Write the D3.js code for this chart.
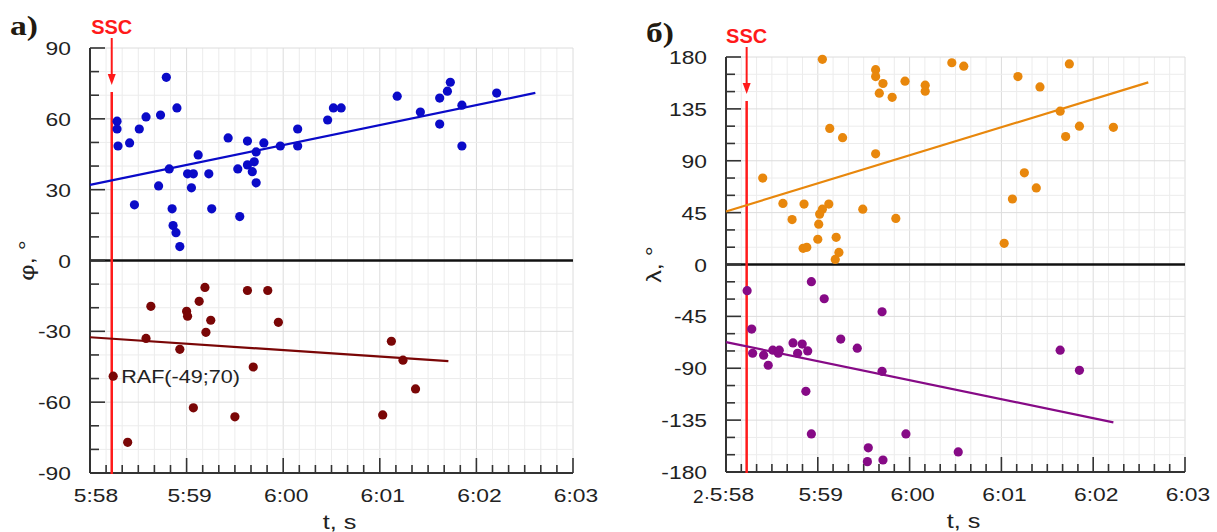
<!DOCTYPE html>
<html>
<head>
<meta charset="utf-8">
<script src="https://cdn.jsdelivr.net/npm/d3@7/dist/d3.min.js"></script>
<style>
  body { margin: 0; background: white; }
  svg { display: block; font-family: Arial, "Liberation Sans", sans-serif; }
</style>
</head>
<body>
<svg id="chart" width="1217" height="532"></svg>
<script>
////////////////////////////////////////////////////////////////////////////////////
// Data (t in minutes after 5:58, angles in degrees)
var tickLabelsX = ["5:58", "5:59", "6:00", "6:01", "6:02", "6:03"];
var sscTime = 0.225;

// panel a) latitude phi
var phiPos = [[0.28,59],[0.28,55.7],[0.29,48.5],[0.41,49.8],[0.51,55.7],[0.58,60.8],[0.46,23.6],
  [0.73,61.6],[0.79,77.6],[0.90,64.6],[0.82,38.8],[0.71,31.6],[0.85,21.9],[0.86,14.8],[0.89,11.8],
  [0.93,5.9],[1.01,36.7],[1.07,36.7],[1.05,30.8],[1.12,44.7],[1.23,36.7],[1.26,21.9],[1.43,51.9],
  [1.53,38.8],[1.55,18.6],[1.63,50.6],[1.63,40.5],[1.68,37.6],[1.70,41.8],[1.72,46],[1.72,32.9],
  [1.80,49.8],[1.97,48.5],[2.15,55.7],[2.15,48.5],[2.46,59.5],[2.52,64.6],[2.60,64.6],[3.18,69.6],
  [3.42,62.9],[3.62,68.8],[3.70,71.7],[3.73,75.5],[3.62,57.8],[3.85,65.8],[3.85,48.5],[4.21,70.9]];
var phiNeg = [[0.24,-49],[0.39,-77],[0.58,-33],[0.63,-19.4],[0.93,-37.6],[1.00,-21.5],[1.01,-23.6],
  [1.07,-62.4],[1.13,-17.3],[1.19,-11.4],[1.20,-30.4],[1.25,-25.3],[1.50,-66.2],[1.63,-12.7],
  [1.69,-45.1],[1.84,-12.7],[1.95,-26.2],[3.12,-34.2],[3.24,-42.2],[3.37,-54.4],[3.03,-65.4]];
var phiPosFit = [[0, 32], [4.61, 71]];
var phiNegFit = [[0, -32.5], [3.71, -42.6]];

// panel б) longitude lambda
var lamPos = [[1.05,178],[1.63,169],[1.63,163],[1.71,157],[1.95,159],[1.67,148.6],[1.81,145],
  [1.13,118],[1.27,110],[1.63,96],[0.40,75],[0.62,53],[0.72,39],[0.85,52.4],[1.12,52.4],[1.05,48],
  [1.02,43.7],[1.01,35],[1.00,21.9],[0.84,14],[0.88,14.9],[1.20,23.6],[1.23,10.5],[1.19,4.4],
  [1.49,48],[1.85,40],[2.17,155.6],[2.17,150.3],[2.46,175],[2.59,172],[3.18,163],[3.42,154],
  [3.74,174],[3.64,133],[3.70,111],[3.85,120],[4.22,119],[3.25,79.5],[3.38,66.4],[3.12,56.8],[3.03,18.4]];
var lamNeg = [[0.23,-22.7],[0.93,-14.9],[1.07,-29.7],[0.28,-56],[0.29,-77],[0.41,-78.7],[0.46,-87.4],
  [0.51,-74.3],[0.58,-74.3],[0.57,-77],[0.73,-68],[0.83,-69],[0.78,-77],[0.89,-75],[0.87,-110],
  [0.93,-147],[1.25,-64.7],[1.43,-72.6],[1.70,-41],[1.70,-92.7],[1.55,-159],[1.54,-171],[1.71,-169.6],
  [1.96,-147],[2.53,-162.6],[3.64,-74.3],[3.85,-91.8]];
var lamPosFit = [[0, 46], [4.60, 158]];
var lamNegFit = [[0, -67.3], [4.22, -137]];

var svg = d3.select("#chart");
var stretchK = 1.2;

// stretch text a bit wider, like the original picture
function stretch(sel) {
  sel.each(function() {
    var w = this.getComputedTextLength();
    d3.select(this).attr("textLength", w * stretchK).attr("lengthAdjust", "spacingAndGlyphs");
  });
}

////////////////////////////////////////////////////////////////////////////////////
// Draw one panel
function drawPanel(p) {
  var x = d3.scaleLinear().domain([0, 5]).range([p.left, p.right]);
  var y = d3.scaleLinear().domain([-p.yMax, p.yMax]).range([p.bottom, p.top]);
  var g = svg.append("g");

  var xMinor = d3.range(0, 5.0001, 1 / 6);
  var yMinor = d3.range(-p.yMax, p.yMax + 0.001, p.yStep);
  var isMajorX = function(d) { return Math.abs(d - Math.round(d)) < 0.001; };
  var isMajorY = function(d) { return Math.abs(d % p.yLabelStep) < 0.001; };

  // grid
  g.selectAll(".vgrid").data(xMinor).enter().append("line")
   .attr("x1", function(d) { return x(d); }).attr("x2", function(d) { return x(d); })
   .attr("y1", p.top).attr("y2", p.bottom)
   .style("stroke", function(d) { return isMajorX(d) ? "#dcdcdc" : "#ececec"; })
   .style("stroke-width", 1);
  g.selectAll(".hgrid").data(yMinor).enter().append("line")
   .attr("x1", p.left).attr("x2", p.right)
   .attr("y1", function(d) { return y(d); }).attr("y2", function(d) { return y(d); })
   .style("stroke", function(d) { return isMajorY(d) ? "#dcdcdc" : "#ececec"; })
   .style("stroke-width", 1);

  // zero line
  g.append("line")
   .attr("x1", p.left).attr("x2", p.right).attr("y1", y(0)).attr("y2", y(0))
   .style("stroke", "#111").style("stroke-width", 2.5);

  // axes with inward ticks
  g.append("line").attr("x1", p.left).attr("x2", p.left).attr("y1", p.top).attr("y2", p.bottom)
   .style("stroke", "#333").style("stroke-width", 2);
  g.append("line").attr("x1", p.left).attr("x2", p.right).attr("y1", p.bottom).attr("y2", p.bottom)
   .style("stroke", "#333").style("stroke-width", 2);
  g.selectAll(".ytick").data(yMinor).enter().append("line")
   .attr("x1", p.left).attr("x2", function(d) { return p.left + (isMajorY(d) ? 15 : 9); })
   .attr("y1", function(d) { return y(d); }).attr("y2", function(d) { return y(d); })
   .style("stroke", "#333").style("stroke-width", 1.6);
  g.selectAll(".xtick").data(xMinor).enter().append("line")
   .attr("x1", function(d) { return x(d); }).attr("x2", function(d) { return x(d); })
   .attr("y1", p.bottom).attr("y2", function(d) { return p.bottom - (isMajorX(d) ? 15 : 8); })
   .style("stroke", "#333").style("stroke-width", 1.6);

  // tick labels
  var yLabels = g.selectAll(".ylab").data(yMinor.filter(isMajorY)).enter().append("text")
   .attr("x", p.left - 19).attr("y", function(d) { return y(d) + 7; })
   .attr("text-anchor", "end").style("font-size", "19px").style("fill", "#222")
   .text(function(d) { return d; });
  stretch(yLabels);
  var xLabels = g.selectAll(".xlab").data(tickLabelsX).enter().append("text")
   .attr("x", function(d, i) { return x(i) + (i === 0 ? 6 : 3); }).attr("y", p.bottom + 29)
   .attr("text-anchor", "middle").style("font-size", "19px").style("fill", "#222")
   .text(function(d) { return d; });
  stretch(xLabels);
  if (p.prefix) {
    g.append("text").attr("x", x(0) - 16).attr("y", p.bottom + 31)
     .attr("text-anchor", "end").style("font-size", "19px").style("fill", "#222").text(p.prefix);
  }

  // axis titles
  var xt = g.append("text").attr("x", (p.left + p.right) / 2 + 8).attr("y", p.bottom + 56)
   .attr("text-anchor", "middle").style("font-size", "21px").style("fill", "#222").text("t, s");
  stretch(xt);
  var yt = g.append("text").attr("transform", "translate(" + p.yTitleX + "," + y(0) + ") rotate(-90)")
   .attr("text-anchor", "middle").style("font-size", "21px").style("fill", "#222").text(p.yTitle);
  stretch(yt);

  // panel letter
  var pl = g.append("text").attr("x", p.left - 80).attr("y", p.top - p.letterDy)
   .style("font-family", "'Liberation Serif', 'Times New Roman', serif")
   .style("font-weight", "bold").style("font-size", "28px").style("fill", "#221a10").text(p.letter);
  stretch(pl);

  // SSC marker
  var xs = x(sscTime);
  g.append("text").attr("x", xs).attr("y", p.top - 14).attr("text-anchor", "middle")
   .style("font-weight", "bold").style("font-size", "20px").style("fill", "#ff1a1a").text("SSC");
  g.append("line").attr("x1", xs).attr("x2", xs).attr("y1", p.top - 10).attr("y2", p.top + 28)
   .style("stroke", "#ff1a1a").style("stroke-width", 2);
  g.append("path")
   .attr("d", "M" + (xs - 4) + "," + (p.top + 26) + "L" + (xs + 4) + "," + (p.top + 26) + "L" + xs + "," + (p.top + 37) + "Z")
   .style("fill", "#ff1a1a");
  g.append("line").attr("x1", xs).attr("x2", xs).attr("y1", p.top + 44).attr("y2", p.bottom + 1)
   .style("stroke", "#ff1a1a").style("stroke-width", 2.5);

  // fit lines and points
  var line = d3.line().x(function(d) { return x(d[0]); }).y(function(d) { return y(d[1]); });
  p.series.forEach(function(s) {
    g.append("path").datum(s.fit).attr("d", line)
     .style("fill", "none").style("stroke", s.color).style("stroke-width", 2.2);
  });
  p.series.forEach(function(s) {
    g.selectAll(null).data(s.points).enter().append("circle")
     .attr("cx", function(d) { return x(d[0]); }).attr("cy", function(d) { return y(d[1]); })
     .attr("r", 4.6).style("fill", s.color);
  });
  return {x: x, y: y, g: g};
}; // end drawPanel

////////////////////////////////////////////////////////////////////////////////////
// Panels
var panelA = drawPanel({
  left: 90, right: 573, top: 48, bottom: 473, yMax: 90, yStep: 10, yLabelStep: 30,
  yTitle: "φ, °", yTitleX: 34, letter: "a)", letterDy: 13,
  series: [{points: phiPos, fit: phiPosFit, color: "#0a0ac8"},
           {points: phiNeg, fit: phiNegFit, color: "#7a0606"}]
});
var panelB = drawPanel({
  left: 726, right: 1185, top: 57, bottom: 472, yMax: 180, yStep: 15, yLabelStep: 45,
  yTitle: "λ, °", yTitleX: 661, letter: "б)", letterDy: 15, prefix: "2·",
  series: [{points: lamPos, fit: lamPosFit, color: "#e8870c"},
           {points: lamNeg, fit: lamNegFit, color: "#860a86"}]
});

// RAF label next to the station point
var raf = phiNeg[0];
var rafText = panelA.g.append("text")
  .attr("x", panelA.x(raf[0]) + 8).attr("y", panelA.y(raf[1]) + 6.5)
  .style("font-size", "18px").style("fill", "#222").text("RAF(-49;70)");
stretch(rafText);
</script>
</body>
</html>
